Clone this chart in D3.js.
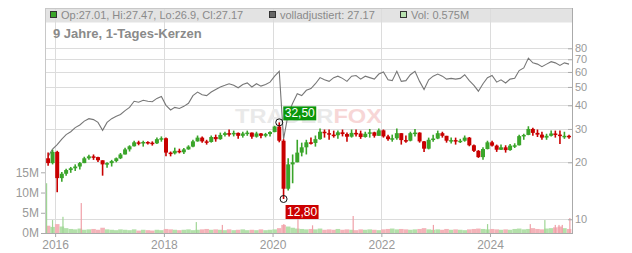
<!DOCTYPE html>
<html>
<head>
<meta charset="utf-8">
<script src="https://cdn.jsdelivr.net/npm/d3@7"></script>
<style>
  body { margin: 0; background: #fff; }
  svg { display: block; font-family: "Liberation Sans", Arial, sans-serif; }
</style>
</head>
<body>
<div id="chart"></div>
<script>
// Monatswerte (Nov 2015 - Jun 2025)
const months = d3.timeMonth.range(new Date(2015, 10, 1), new Date(2025, 6, 1));
const firstOpen = 21.0;
const highs = [22.5, 23.3,
  23.0, 17.8, 18.5, 18.9, 19.5, 20.1, 21.4, 21.9, 22.0, 21.4, 20.5, 20.0,
  20.6, 21.2, 22.4, 23.9, 24.6, 26.0, 26.0, 26.0, 25.8, 25.8, 27.0, 27.4,
  27.0, 22.8, 23.9, 23.6, 23.8, 24.6, 26.3, 27.7, 27.4, 26.3, 27.7, 28.0,
  28.7, 29.0, 29.8, 29.4, 28.7, 29.0, 29.4, 28.7, 29.0, 28.6, 28.6, 29.2,
  31.2, 32.5, 26.5, 21.0, 22.0, 26.3, 25.4, 26.3, 27.0, 27.7, 30.2, 29.8,
  29.8, 29.4, 29.4, 29.8, 28.7, 29.8, 29.8, 29.4, 29.0, 30.0, 29.0, 30.2,
  29.8, 28.0, 28.0, 30.2, 28.5, 27.7, 29.0, 30.0, 28.8, 25.9, 27.0, 28.0,
  29.4, 29.0, 27.6, 27.0, 27.0, 26.6, 27.7, 27.2, 24.8, 23.2, 24.0, 26.0,
  26.0, 24.8, 24.8, 24.6, 25.0, 25.2, 28.0, 28.3, 31.0, 30.4, 29.8, 29.0,
  28.3, 29.4, 29.4, 29.4, 29.0, 28.0];
const lows = [19.2, 19.5,
  13.9, 15.8, 17.0, 17.6, 18.0, 18.3, 19.8, 20.6, 20.6, 20.1, 17.0, 18.7,
  19.0, 20.0, 20.8, 22.0, 22.8, 24.2, 24.6, 24.2, 24.8, 24.5, 25.0, 25.7,
  21.5, 21.5, 22.0, 22.3, 22.1, 23.3, 24.0, 25.7, 25.4, 24.8, 25.4, 25.7,
  26.3, 27.4, 27.4, 27.4, 26.6, 27.0, 27.6, 26.6, 27.0, 26.8, 27.1, 27.4,
  28.8, 25.5, 12.8, 14.2, 15.5, 20.0, 21.5, 22.0, 24.8, 24.2, 26.3, 27.0,
  26.3, 27.0, 26.6, 27.4, 25.7, 27.0, 27.4, 26.6, 27.0, 27.0, 27.0, 27.6,
  27.0, 26.0, 25.7, 26.3, 24.8, 25.4, 25.8, 27.4, 25.4, 22.7, 23.4, 25.7,
  26.5, 27.0, 25.4, 25.1, 24.8, 25.3, 25.7, 24.3, 22.7, 21.1, 20.6, 23.4,
  24.2, 22.7, 23.2, 22.5, 23.0, 23.8, 24.5, 26.3, 27.8, 27.6, 27.2, 26.3,
  26.3, 27.4, 27.0, 25.0, 26.6, 26.6];
const closes = [19.8, 22.7,
  16.5, 17.4, 18.2, 18.6, 19.0, 19.8, 21.0, 21.5, 21.3, 20.5, 19.5, 19.8,
  20.3, 21.0, 22.0, 23.4, 24.3, 25.5, 25.3, 25.6, 25.4, 25.2, 26.5, 26.8,
  22.5, 22.3, 23.0, 22.6, 23.4, 24.2, 25.8, 27.0, 25.8, 25.6, 27.2, 26.5,
  27.9, 28.5, 28.3, 28.6, 27.6, 28.4, 28.7, 27.3, 28.4, 27.6, 28.2, 28.9,
  30.9, 26.0, 14.5, 19.5, 20.0, 22.5, 24.0, 25.5, 25.3, 26.5, 29.0, 28.5,
  28.0, 27.8, 28.8, 28.2, 27.3, 28.6, 28.4, 27.2, 28.3, 28.8, 27.6, 29.5,
  27.4, 26.5, 26.8, 28.5, 26.2, 26.0, 28.5, 28.7, 25.8, 23.6, 26.3, 26.7,
  28.5, 27.6, 26.0, 26.2, 25.9, 26.0, 27.0, 24.6, 23.0, 21.3, 23.5, 25.5,
  24.5, 23.3, 24.0, 23.2, 24.5, 24.6, 27.5, 27.9, 30.0, 28.6, 28.0, 27.0,
  27.6, 28.4, 28.0, 27.6, 27.6, 27.17];
// volladjustierte Linie
const adjusted = [21.5, 23.5,
  24.8, 26.5, 28.0, 29.0, 30.5, 31.5, 33.0, 34.0, 33.6, 32.5, 29.5, 32.5,
  34.0, 35.0, 35.8, 37.5, 39.0, 42.0, 41.5, 42.5, 42.0, 41.8, 43.5, 44.5,
  40.0, 37.8, 39.0, 38.5, 39.5, 41.0, 45.0, 47.0, 45.5, 45.0, 47.0, 48.5,
  50.0, 51.0, 52.0, 51.0, 49.5, 51.5, 52.5, 50.0, 52.0, 50.5, 51.5, 53.0,
  57.0, 60.5, 26.5, 36.0, 41.0, 46.0, 45.0, 48.0, 49.0, 52.0, 56.0, 54.5,
  53.5, 56.0, 57.0, 55.5, 53.5, 57.0, 57.5, 55.0, 57.0, 56.0, 55.0, 58.5,
  60.0, 54.5, 54.0, 60.5, 53.5, 54.0, 58.0, 60.5, 53.5, 48.5, 54.5, 57.0,
  58.5, 57.0, 55.0, 55.5, 55.0, 55.5, 58.0, 54.0, 51.0, 47.5, 52.0, 56.0,
  57.5, 53.0, 54.5, 52.5, 55.0, 55.5, 61.0, 63.0, 71.0, 67.0, 66.0, 64.0,
  66.0, 68.0, 67.0, 65.0, 67.0, 66.0];
// typisches Tagesvolumen je Monat, Mio.
const volumes = [1.8, 1.5,
  2.2, 1.6, 1.2, 1.0, 0.9, 1.1, 0.8, 0.9, 1.0, 0.8, 1.3, 0.9,
  0.8, 0.7, 0.9, 0.8, 0.7, 0.9, 0.6, 0.8, 0.7, 0.6, 0.8, 0.7,
  1.0, 0.9, 0.8, 0.7, 0.8, 0.9, 0.7, 0.8, 0.9, 1.0, 0.8, 0.9,
  0.8, 0.7, 0.9, 0.7, 0.8, 0.9, 0.7, 0.8, 0.7, 0.9, 0.7, 0.8,
  0.9, 1.2, 2.0, 1.6, 1.3, 1.1, 1.0, 0.9, 1.0, 0.9, 1.1, 0.8,
  0.9, 0.8, 1.0, 0.8, 0.9, 0.8, 0.7, 0.9, 0.8, 0.9, 0.8, 0.7,
  0.9, 1.0, 1.1, 0.9, 1.0, 0.9, 0.8, 0.9, 1.0, 1.2, 0.9, 0.8,
  0.9, 0.8, 1.0, 0.8, 0.9, 0.8, 0.7, 0.9, 1.0, 1.1, 1.0, 0.9,
  1.0, 0.9, 0.8, 0.9, 0.8, 1.0, 1.1, 0.9, 1.0, 1.2, 1.0, 0.9,
  1.1, 1.2, 1.4, 1.6, 1.2, 1.0];
// einzelne Volumenspitzen
const spikeDates = ["2015-11-04", "2015-12-14", "2016-02-22", "2016-06-24", "2018-08-06", "2019-01-28",
  "2020-03-16", "2020-06-19", "2020-09-25", "2021-06-25", "2022-12-16", "2023-12-15",
  "2024-09-27", "2025-01-03", "2025-03-14", "2025-04-08", "2025-04-30", "2025-06-20"];
const spikeVols = [12.3, 3.2, 4.0, 7.4, 2.7, 2.0, 2.2, 4.0, 1.9, 4.2, 2.0, 2.2, 2.2, 3.2, 2.0, 2.0, 2.0, 3.7];
const spikeUp = [true, true, true, false, true, false, false, false, false, false, false, true, false, true, false, false, false, false];

const yearTicks = [2016, 2018, 2020, 2022, 2024];
const priceTicks = [10, 20, 30, 40, 50, 60, 70, 80];
const volTicks = [0, 5, 10, 15];

const W = 632, H = 253;
const pL = 45, pR = 572, pT = 8, pB = 233;

const data = months.map((m, i) => ({
  date: d3.timeDay.offset(m, 14),
  open: i ? closes[i - 1] : firstOpen,
  high: highs[i], low: lows[i], close: closes[i],
  adj: adjusted[i], vol: volumes[i]
}));

const svg = d3.select("#chart").append("svg").attr("width", W).attr("height", H);

const x = d3.scaleTime().domain([new Date(2015, 9, 25), new Date(2025, 6, 5)]).range([pL, pR]);
const y = d3.scaleLog().domain([10, 80]).range([219.3, 48.3]);
const yVol = d3.scaleLinear().domain([0, 15]).range([pB, 172.3]);

// Kopfzeile
svg.append("rect").attr("x", pL).attr("y", pT).attr("width", pR - pL).attr("height", 14.5).attr("fill", "#e3e3e3");

// Gitter
svg.append("g").selectAll("line").data(priceTicks).enter().append("line")
  .attr("x1", pL).attr("x2", pR)
  .attr("y1", d => Math.round(y(d)) + 0.5).attr("y2", d => Math.round(y(d)) + 0.5)
  .attr("stroke", "#dcdcdc");
svg.append("g").selectAll("line").data(yearTicks).enter().append("line")
  .attr("x1", d => Math.round(x(new Date(d, 0, 1))) + 0.5).attr("x2", d => Math.round(x(new Date(d, 0, 1))) + 0.5)
  .attr("y1", pT).attr("y2", pB)
  .attr("stroke", "#dcdcdc");

// Rahmen
svg.append("line").attr("x1", pL).attr("x2", pR).attr("y1", pT + 0.5).attr("y2", pT + 0.5).attr("stroke", "#c8c8c8");
svg.append("line").attr("x1", pL + 0.5).attr("x2", pL + 0.5).attr("y1", pT).attr("y2", pB).attr("stroke", "#c8c8c8");

// Wasserzeichen
const wm = svg.append("text").attr("x", 235).attr("y", 123)
  .attr("font-size", 21).attr("font-weight", "bold")
  .attr("textLength", 147).attr("lengthAdjust", "spacingAndGlyphs");
wm.append("tspan").attr("fill", "#e9e9e9").text("TRADER");
wm.append("tspan").attr("fill", "#f7d6d6").text("FOX");

// Legende oben
const legend = [
  { x: 50, fill: "#3aa52a", text: "Op:27.01, Hi:27.47, Lo:26.9, Cl:27.17" },
  { x: 269, fill: "#666", text: "volladjustiert: 27.17" },
  { x: 400, fill: "#b8e2b0", text: "Vol: 0.575M" }
];
legend.forEach(function(d) {
  svg.append("rect").attr("x", d.x + 0.5).attr("y", 11.5).attr("width", 6).attr("height", 6)
    .attr("fill", d.fill).attr("stroke", "#333");
  svg.append("text").attr("x", d.x + 11).attr("y", 19).attr("font-size", 11).attr("fill", "#8a8a8a").text(d.text);
});
svg.append("text").attr("x", 53).attr("y", 38).attr("font-size", 13).attr("font-weight", "bold")
  .attr("fill", "#8a8a8a").text("9 Jahre, 1-Tages-Kerzen");

// Volumen
const up = d => d.close >= d.open;
svg.append("g").selectAll("rect").data(data).enter().append("rect")
  .attr("x", d => x(d.date) - 2.3).attr("width", 4.6)
  .attr("y", d => yVol(d.vol)).attr("height", d => pB - yVol(d.vol))
  .attr("fill", d => up(d) ? "#b3e0aa" : "#f4b3b9");
svg.append("g").selectAll("rect").data(spikeDates).enter().append("rect")
  .attr("x", d => x(d3.timeParse("%Y-%m-%d")(d)) - 0.5).attr("width", 1.2)
  .attr("y", (d, i) => yVol(spikeVols[i])).attr("height", (d, i) => pB - yVol(spikeVols[i]))
  .attr("fill", (d, i) => spikeUp[i] ? "#9fd695" : "#f0a0a8");

// volladjustierte Linie
svg.append("path").datum(data)
  .attr("fill", "none").attr("stroke", "#777").attr("stroke-width", 1.1)
  .attr("d", d3.line().x(d => x(d.date)).y(d => y(d.adj)));

// Kerzen
const candle = svg.append("g").selectAll("g").data(data).enter().append("g");
candle.append("line")
  .attr("x1", d => x(d.date)).attr("x2", d => x(d.date))
  .attr("y1", d => y(d.high)).attr("y2", d => y(d.low))
  .attr("stroke", d => up(d) ? "#3aa52a" : "#c80000").attr("stroke-width", 1.6);
candle.append("rect")
  .attr("x", d => x(d.date) - 2).attr("width", 4)
  .attr("y", d => y(Math.max(d.open, d.close)))
  .attr("height", d => Math.max(1.5, y(Math.min(d.open, d.close)) - y(Math.max(d.open, d.close))))
  .attr("fill", d => up(d) ? "#3aa52a" : "#c80000");

// Hoch / Tief
const hi = data[d3.maxIndex(data, d => d.high)];
const lo = data[d3.minIndex(data, d => d.low)];
const fmt = v => d3.format(".2f")(v).replace(".", ",");
[[hi, hi.high, "#0a960a", 4, -16], [lo, lo.low, "#cc0000", 2, 6]].forEach(function(m) {
  const cx = x(m[0].date), cy = y(m[1]);
  svg.append("circle").attr("cx", cx).attr("cy", cy).attr("r", 3.5)
    .attr("fill", "none").attr("stroke", "#111").attr("stroke-width", 1);
  svg.append("rect").attr("x", cx + m[3]).attr("y", cy + m[4]).attr("width", 33).attr("height", 14).attr("fill", m[2]);
  svg.append("text").attr("x", cx + m[3] + 16.5).attr("y", cy + m[4] + 11)
    .attr("text-anchor", "middle").attr("font-size", 12).attr("fill", "#fff").text(fmt(m[1]));
});

// Achsen
const axisColor = "#aaa", labelColor = "#999";
const yAxis = svg.append("g").attr("transform", "translate(" + pR + ",0)")
  .call(d3.axisRight(y).tickValues(priceTicks).tickFormat(d3.format("d")).tickSize(-4).tickSizeOuter(0).tickPadding(3));
const xAxis = svg.append("g").attr("transform", "translate(0," + pB + ")")
  .call(d3.axisBottom(x).tickValues(yearTicks.map(d => new Date(d, 0, 1))).tickFormat(d3.timeFormat("%Y")).tickSize(4).tickSizeOuter(0).tickPadding(3));
const vAxis = svg.append("g").attr("transform", "translate(" + pL + ",0)")
  .call(d3.axisLeft(yVol).tickValues(volTicks).tickFormat(d => d + "M").tickSize(4).tickSizeOuter(0).tickPadding(2));
[yAxis, xAxis, vAxis].forEach(function(a) {
  a.select(".domain").remove();
  a.selectAll("line").attr("stroke", axisColor);
  a.selectAll("text").attr("fill", labelColor).attr("font-size", 12).attr("font-family", "Liberation Sans, Arial, sans-serif");
});
yAxis.selectAll("text").attr("font-size", 11);
svg.append("line").attr("x1", pR + 0.5).attr("x2", pR + 0.5).attr("y1", pT).attr("y2", pB + 1).attr("stroke", axisColor);
svg.append("line").attr("x1", pL).attr("x2", pR).attr("y1", pB + 0.5).attr("y2", pB + 0.5).attr("stroke", axisColor);
</script>
</body>
</html>
